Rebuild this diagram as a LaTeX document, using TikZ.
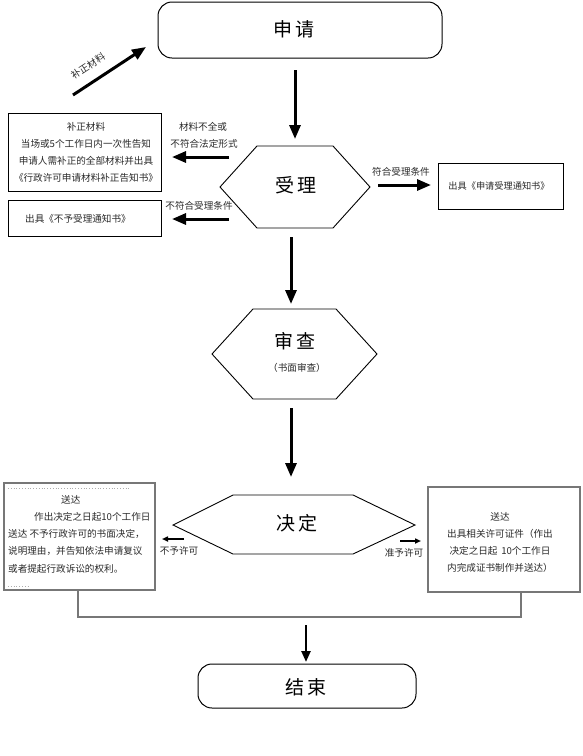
\documentclass[tikz,border=0pt]{standalone}
\usepackage{fontspec}
\setmainfont{Liberation Serif}
\newfontfamily\cjk{Noto Sans CJK SC}
\usetikzlibrary{arrows.meta}
\definecolor{frame}{HTML}{777777}
\definecolor{txt}{HTML}{2A2A2A}
\begin{document}
\begin{tikzpicture}[x=1pt,y=-1pt,
  big/.style={font=\cjk\fontsize{19}{22}\selectfont, inner sep=0},
  sml/.style={font=\cjk\fontsize{9.6}{17.2}\selectfont, text=txt, inner sep=0},
  rbox/.style={draw, line width=1pt, rounded corners=14pt, inner sep=0},
  sbox/.style={draw, line width=0.9pt, inner sep=0},
  gbox/.style={draw=frame, line width=1.5pt, inner sep=0},
  hex/.style={draw, line width=0.9pt},
  arr/.style={line width=3pt, -{Triangle[length=14pt,width=11pt]}},
  thin arr/.style={line width=1.6pt, -{Triangle[length=6pt,width=5pt]}},
  gline/.style={draw=frame, line width=1.5pt}]
\useasboundingbox (0,0) rectangle (582,756);
\fill[white] (0,0) rectangle (582,756);

% start
\node[rbox, minimum width=284pt, minimum height=56pt] (shen) at (300,30) {};
\node[big] (shenT) at (294,29) {申\,请};

% acceptance hexagon
\draw[hex] (220,187) -- (257,146) -- (333,146) -- (370,187) -- (333,228) -- (257,228) -- cycle;
\node[big] (shou) at (296,185) {受\,理};

% review hexagon
\draw[hex] (212,354) -- (253,309) -- (336,309) -- (377,354) -- (336,399) -- (253,399) -- cycle;
\node[big] (shencha) at (295,341) {审\,查};
\node[sml] (shumian) at (297,368) {（书面审查）};

% decision hexagon
\draw[hex] (173,525) -- (233,495) -- (353,495) -- (415,525) -- (353,554) -- (233,554) -- cycle;
\node[big] (jue) at (297,523) {决\,定};

% end
\node[rbox, minimum width=218pt, minimum height=44pt] (jie) at (307,686) {};
\node[big] (jieT) at (306,687) {结\,束};

% side boxes
\node[sbox, minimum width=153pt, minimum height=78pt] (buzheng) at (84.5,152) {};
\node[sml, align=center] (buzhengT) at (86,152.5) {补正材料\\当场或5个工作日内一次性告知\\申请人需补正的全部材料并出具\\《行政许可申请材料补正告知书》};
\node[sbox, minimum width=153pt, minimum height=36pt] (buyu) at (84.5,218) {};
\node[sml] (buyuT) at (78,219) {出具《不予受理通知书》};
\node[sbox, minimum width=125pt, minimum height=46pt] (tongzhi) at (500.5,186) {};
\node[sml, font=\cjk\fontsize{9.2}{12}\selectfont] (tongzhiT) at (499,186) {出具《申请受理通知书》};

\node[gbox, minimum width=151pt, minimum height=107pt] (buxu) at (79.5,536.5) {};
\node[sml, align=left, anchor=north west] (buxuT) at (8,495) {\hspace*{53pt}送达\\\hspace*{26pt}作出决定之日起10个工作日\\送达 不予行政许可的书面决定，\\说明理由，并告知依法申请复议\\或者提起行政诉讼的权利。};
\draw[frame!60, line width=0.8pt, dotted] (8,488) -- (130,488);
\draw[frame!60, line width=0.8pt, dotted] (8,586) -- (28,586);

\node[gbox, minimum width=152pt, minimum height=105pt] (zhun) at (504,539.5) {};
\node[sml, align=center] (zhunT) at (500,542.5) {送达\\出具相关许可证件（作出\\决定之日起\, 10个工作日\\内完成证书制作并送达）};

% arrow coordinates
\coordinate (a1s) at (295,70);  \coordinate (a1e) at (295,139);
\coordinate (a2s) at (291,237); \coordinate (a2e) at (291,304);
\coordinate (a3s) at (291,408); \coordinate (a3e) at (291,477);
\coordinate (a4s) at (306,625); \coordinate (a4e) at (306,662);
\coordinate (r1s) at (378,185); \coordinate (r1e) at (431,185);
\coordinate (l1s) at (229,157); \coordinate (l1e) at (172,157);
\coordinate (l2s) at (229,219); \coordinate (l2e) at (172,219);
\coordinate (d1s) at (73,95);   \coordinate (d1e) at (146,47);
\coordinate (n1s) at (184,539); \coordinate (n1e) at (162,539);
\coordinate (y1s) at (400,541); \coordinate (y1e) at (421,541);

\draw[arr] (a1s) -- (a1e);
\draw[arr] (a2s) -- (a2e);
\draw[arr] (a3s) -- (a3e);
\draw[line width=2.4pt, -{Triangle[length=11pt,width=9pt]}] (a4s) -- (a4e);
\draw[arr] (r1s) -- (r1e);
\draw[arr] (l1s) -- (l1e);
\draw[arr] (l2s) -- (l2e);
\draw[arr] (d1s) -- (d1e);
\draw[thin arr] (n1s) -- (n1e);
\draw[thin arr] (y1s) -- (y1e);

% gray joining line
\draw[gline] (buxu.south -| 78,0) |- (521,617) -- (zhun.south -| 521,0);

% labels
\node[sml, rotate=33] (lbBz) at (88,66) {补正材料};
\node[sml] (lb1) at (203,127) {材料不全或};
\node[sml] (lb2) at (204,144) {不符合法定形式};
\node[sml] (lb3) at (199,206) {不符合受理条件};
\node[sml] (lb4) at (401,172) {符合受理条件};
\node[sml] (lb5) at (179,551) {不予许可};
\node[sml] (lb6) at (404,553) {准予许可};
\end{tikzpicture}
\end{document}
